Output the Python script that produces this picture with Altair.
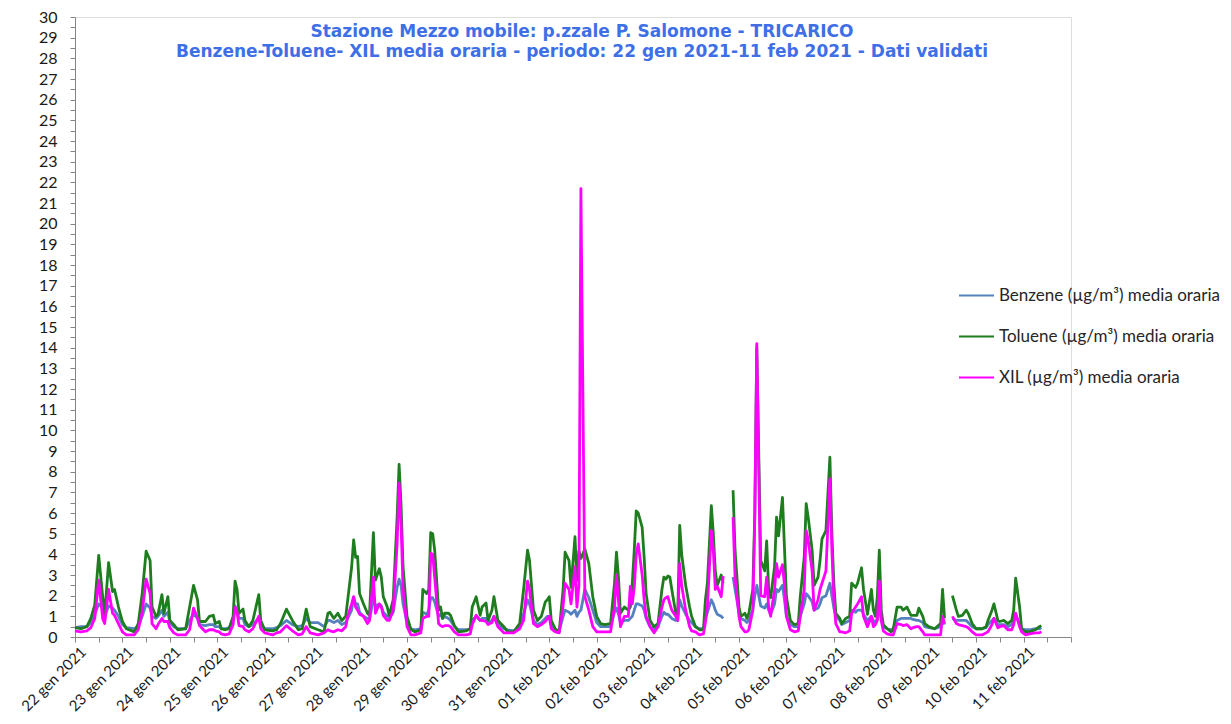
import json
import altair as alt
import pandas as pd

# hours elapsed since 22 gen 2021 00:00
hours = [
    0, 3, 6, 8, 10, 12, 14, 15, 17, 19, 20, 22,
    24, 26, 30, 32, 34, 36, 38, 39, 41, 42, 44, 45, 47,
    48, 50, 52, 56, 58, 60, 62, 63, 66, 68, 70, 71, 73, 74, 76, 78, 80, 81, 82, 83, 85, 86, 88, 90, 93, 94,
    96, 100, 102, 104, 107, 110, 113, 115, 117, 119,
    123, 126, 128, 129, 131, 133, 135, 137, 138, 140, 141, 142, 143,
    144, 146, 148, 149, 151, 152, 154, 155, 156, 158, 159, 161, 163, 164, 165, 166,
    168, 170, 172, 175, 176, 178, 179, 180, 181, 182, 184, 185, 186, 187, 189, 190,
    192, 194, 198, 200, 201, 203, 205, 206, 208, 209, 211, 212, 214,
    217, 219, 222, 225, 227, 229, 230, 232, 234, 236, 238, 239,
    240, 241, 243, 245, 247, 248, 250, 251, 253, 254, 255, 256, 258, 260, 262,
    264, 266, 268, 271, 273, 274, 275, 276, 278, 280, 281, 282, 283, 284, 285, 287,
    288, 289, 291, 293, 295, 297, 298, 299, 300, 301, 302, 304, 305, 306, 307, 309, 311,
    312, 314, 316, 318, 319, 320, 322, 323, 324, 325, 327, 328, 330, 333, 334,
    336, 337, 339, 340, 341, 343, 344, 345, 347, 349, 350, 351, 352, 354, 355, 356, 358, 359,
    360, 362, 364, 366, 367, 369, 370, 371, 373, 374, 376, 377, 378, 380, 382, 383,
    384, 385, 387, 388, 390, 392, 393, 395, 396, 398, 399, 401, 403, 404, 405, 406, 407,
    408, 409, 411, 413, 414, 416, 418, 419, 421, 423, 424, 426, 427, 429, 430,
    432, 435, 438, 439, 440, 442, 444, 446, 447, 449, 451, 452, 454,
    456, 459, 461, 462, 464, 465, 467, 468, 470, 472, 474, 475, 476, 478, 479,
    481, 483, 486, 488, 489,
]

toluene = [
    0.45, 0.4, 0.5, 0.9, 1.55, 3.95, 1.95, 1.05, 3.6, 2.2, 2.3, 1.45,
    0.75, 0.4, 0.25, 0.65, 2.1, 4.15, 3.7, 1.45, 1.0, 1.1, 2.05, 1.15, 1.95,
    0.8, 0.6, 0.35, 0.4, 1.45, 2.5, 1.8, 0.75, 0.75, 1.0, 1.05, 0.65, 0.75, 0.4, 0.35, 0.4, 1.0, 2.7, 2.3, 1.15, 1.35, 0.8, 0.5, 0.8, 2.05, 0.8,
    0.35, 0.3, 0.35, 0.65, 1.35, 0.8, 0.35, 0.4, 1.35, 0.5,
    0.35, 0.25, 1.15, 1.2, 0.9, 1.15, 0.8, 1.0, 1.8, 3.4, 4.7, 3.85, 3.9,
    2.1, 1.6, 1.15, 1.05, 5.05, 2.75, 3.3, 2.9, 1.95, 1.45, 1.05, 1.8, 5.8, 8.35, 6.4, 3.4,
    1.0, 0.35, 0.25, 0.35, 2.3, 2.1, 2.3, 5.05, 5.0, 4.2, 1.3, 1.45, 0.9, 1.15, 1.15, 1.05,
    0.55, 0.25, 0.3, 0.4, 1.45, 1.95, 1.05, 1.45, 1.65, 0.8, 1.3, 1.95, 0.8,
    0.5, 0.25, 0.25, 0.65, 2.3, 4.2, 3.7, 1.3, 0.8, 1.0, 1.7, 1.8,
    1.95, 0.8, 0.4, 0.25, 2.3, 4.1, 3.7, 2.4, 4.85, 2.75, 4.15, 3.8, 4.25, 3.55, 1.95,
    1.0, 0.65, 0.6, 0.65, 2.6, 4.1, 2.9, 1.15, 1.45, 1.3, 1.45, 2.6, 4.2, 6.1, 6.0, 5.3,
    3.85, 2.1, 0.8, 0.5, 0.65, 2.3, 2.9, 2.8, 2.95, 2.9, 2.3, 1.15, 1.05, 5.4, 4.0, 2.5, 1.45,
    1.0, 0.5, 0.35, 0.35, 1.8, 2.6, 6.35, 5.0, 3.2, 2.5, 3.0, 2.6, None, 7.1, 4.2,
    1.45, 1.0, 1.15, 0.9, 1.15, 2.3, 6.0, 14.0, 3.7, 3.2, 4.65, 2.3, 1.9, 3.4, 5.8, 4.9, 6.75, 4.35,
    1.95, 0.8, 0.6, 0.65, 1.95, 3.85, 6.45, 5.8, 4.2, 2.5, 2.9, 3.7, 4.75, 5.15, 8.7, 5.0,
    2.6, 1.15, 0.9, 0.65, 0.9, 1.0, 2.6, 2.4, 2.6, 3.35, 2.3, 1.1, 2.3, 1.3, 1.0, 1.95, 4.2,
    1.3, 0.6, 0.4, 0.25, 0.35, 1.45, 1.45, 1.3, 1.45, 1.05, 1.05, 1.05, 1.4, 1.0, 0.65,
    0.5, 0.4, 0.65, 2.3, 0.9, None, 2.0, 1.3, 1.0, 1.05, 1.3, 1.15, 0.65,
    0.4, 0.4, 0.5, 0.8, 1.3, 1.6, 0.8, 0.75, 0.8, 0.65, 0.8, 1.3, 2.85, 1.45, 0.4,
    0.25, 0.25, 0.35, 0.5, 0.55,
]

benzene = [
    0.45, 0.5, 0.5, 0.7, 1.1, 1.6, 1.4, 1.0, 1.5, 1.4, 1.3, 1.0,
    0.6, 0.45, 0.4, 0.5, 1.0, 1.6, 1.4, 1.0, 0.9, 1.0, 1.3, 1.0, 1.2,
    0.7, 0.5, 0.4, 0.4, 0.8, 1.1, 0.9, 0.6, 0.55, 0.6, 0.6, 0.5, 0.5, 0.4, 0.4, 0.45, 0.9, 1.5, 1.3, 0.9, 0.9, 0.6, 0.5, 0.6, 0.9, 0.6,
    0.4, 0.4, 0.45, 0.55, 0.8, 0.6, 0.5, 0.55, 0.9, 0.7,
    0.7, 0.5, 0.8, 0.8, 0.7, 0.8, 0.6, 0.7, 0.9, 1.3, 1.9, 1.6, 1.6,
    1.2, 1.0, 0.9, 0.8, 1.9, 1.5, 1.6, 1.5, 1.2, 1.0, 0.9, 1.2, 2.4, 2.8, 2.5, 1.6,
    0.7, 0.4, 0.35, 0.4, 1.2, 1.1, 1.3, 1.9, 1.9, 1.7, 1.0, 1.1, 0.9, 1.0, 0.9, 0.8,
    0.5, 0.35, 0.35, 0.4, 0.8, 1.0, 0.8, 0.9, 0.9, 0.7, 0.8, 1.0, 0.6,
    0.4, 0.35, 0.3, 0.5, 1.1, 1.8, 1.6, 0.8, 0.6, 0.7, 0.9, 1.0,
    1.0, 0.6, 0.35, 0.3, 1.0, 1.3, 1.2, 1.1, 1.3, 1.0, 1.2, 1.3, 2.3, 1.9, 1.3,
    0.7, 0.5, 0.5, 0.5, 1.2, 1.4, 1.1, 0.7, 0.8, 0.8, 0.9, 1.0, 1.3, 1.6, 1.6, 1.5,
    1.3, 0.9, 0.5, 0.4, 0.5, 1.0, 1.2, 1.1, 1.1, 1.0, 0.9, 0.8, 0.8, 1.8, 1.5, 1.1, 0.8,
    0.7, 0.5, 0.4, 0.4, 0.9, 1.2, 1.8, 1.6, 1.3, 1.1, 1.0, 0.9, None, 2.9, 2.3,
    1.2, 0.9, 0.8, 0.7, 0.8, 1.3, 2.0, 2.5, 1.5, 1.4, 1.6, 1.3, 1.1, 1.6, 2.3, 2.2, 2.5, 1.8,
    1.0, 0.6, 0.5, 0.5, 1.0, 1.6, 2.1, 2.0, 1.7, 1.3, 1.4, 1.6, 1.9, 2.0, 2.6, 2.0,
    1.4, 1.0, 0.8, 0.6, 0.7, 0.8, 1.3, 1.2, 1.3, 1.3, 1.1, 0.8, 1.0, 0.8, 0.7, 0.9, 1.5,
    0.8, 0.5, 0.4, 0.35, 0.4, 0.8, 0.9, 0.9, 0.9, 0.9, 0.85, 0.8, 0.8, 0.7, 0.5,
    0.45, 0.4, 0.5, 0.9, 0.6, None, 0.9, 0.8, 0.8, 0.8, 0.8, 0.7, 0.5,
    0.4, 0.4, 0.45, 0.6, 0.8, 0.9, 0.6, 0.6, 0.6, 0.5, 0.6, 0.8, 1.1, 0.6, 0.4,
    0.35, 0.35, 0.4, 0.4, 0.45,
]

xil = [
    0.3, 0.25, 0.3, 0.45, 0.9, 2.75, 0.9, 0.65, 2.3, 1.15, 1.05, 0.65,
    0.25, 0.1, 0.1, 0.35, 1.2, 2.8, 2.1, 0.65, 0.4, 0.6, 0.9, 0.75, 0.75,
    0.45, 0.2, 0.1, 0.1, 0.35, 1.4, 0.9, 0.55, 0.25, 0.35, 0.35, 0.3, 0.25, 0.15, 0.1, 0.15, 0.6, 1.45, 1.2, 0.55, 0.5, 0.35, 0.25, 0.4, 1.0, 0.4,
    0.2, 0.1, 0.2, 0.25, 0.55, 0.3, 0.1, 0.15, 0.5, 0.2,
    0.1, 0.2, 0.35, 0.3, 0.25, 0.35, 0.3, 0.5, 1.0, 1.6, 1.95, 1.45, 1.3,
    1.1, 1.0, 0.65, 0.8, 2.9, 1.15, 1.6, 1.45, 1.05, 0.8, 0.8, 1.3, 4.5, 7.45, 5.5, 2.3,
    0.5, 0.1, 0.1, 0.2, 0.9, 1.0, 1.0, 4.05, 4.0, 2.9, 0.65, 0.55, 0.5, 0.55, 0.55, 0.5,
    0.25, 0.1, 0.1, 0.15, 0.6, 1.05, 0.8, 0.8, 0.75, 0.6, 0.7, 1.0, 0.5,
    0.2, 0.2, 0.2, 0.4, 0.8, 2.7, 2.3, 0.65, 0.5, 0.6, 0.75, 0.9,
    1.0, 0.4, 0.25, 0.2, 1.5, 2.6, 2.3, 1.6, 3.4, 1.45, 2.5, 21.7, 1.95, 1.3, 0.5,
    0.25, 0.25, 0.25, 0.25, 1.45, 3.0, 1.8, 0.5, 1.0, 1.0, 2.45, 1.6, 2.4, 4.0, 4.5, 3.0,
    1.8, 1.0, 0.5, 0.2, 0.5, 1.45, 1.8, 1.9, 1.95, 1.6, 1.3, 1.0, 0.8, 3.55, 2.5, 1.3, 0.5,
    0.3, 0.25, 0.1, 0.15, 0.7, 1.45, 5.15, 4.2, 2.3, 2.45, 1.95, 2.95, None, 5.8, 2.9,
    1.0, 0.5, 0.25, 0.25, 0.35, 1.3, 5.8, 14.2, 2.0, 1.95, 2.9, 1.45, 1.0, 2.3, 3.55, 2.9, 3.5, 2.55,
    1.0, 0.35, 0.25, 0.3, 1.0, 2.3, 5.15, 4.7, 3.2, 1.3, 1.8, 2.3, 2.6, 3.2, 7.65, 4.2,
    1.8, 0.65, 0.25, 0.25, 0.2, 0.3, 1.15, 1.45, 1.6, 1.95, 1.0, 0.5, 1.0, 0.5, 0.6, 0.8, 2.7,
    0.8, 0.3, 0.15, 0.1, 0.1, 0.65, 0.6, 0.55, 0.6, 0.4, 0.45, 0.5, 0.5, 0.25, 0.1,
    0.1, 0.1, 0.1, 1.0, 0.65, None, 1.0, 0.65, 0.6, 0.55, 0.5, 0.45, 0.25,
    0.1, 0.1, 0.2, 0.25, 0.6, 0.9, 0.45, 0.5, 0.55, 0.35, 0.35, 0.6, 1.15, 0.5, 0.25,
    0.1, 0.15, 0.2, 0.2, 0.25,
]

assert len(hours) == len(toluene) == len(benzene) == len(xil)

series_names = [
    "Benzene (µg/m³) media oraria",
    "Toluene (µg/m³) media oraria",
    "XIL (µg/m³) media oraria",
]
series_colors = ["#5582BF", "#1E7D1E", "#FF00FF"]

day_labels = (
    [f"{d} gen 2021" for d in range(22, 32)]
    + [f"{d:02d} feb 2021" for d in range(1, 12)]
)

title_lines = [
    "Stazione Mezzo mobile: p.zzale P. Salomone - TRICARICO",
    "Benzene-Toluene- XIL media oraria - periodo: 22 gen 2021-11 feb 2021 - Dati validati",
]

rows = []
for name, vals in zip(series_names, [benzene, toluene, xil]):
    seg = 0
    for h, v in zip(hours, vals):
        if v is None:
            seg += 1
            continue
        rows.append({"ora": h, "valore": v, "serie": name, "tratto": seg})
df = pd.DataFrame(rows)

x_axis = alt.Axis(
    values=list(range(0, 505, 12)),
    labelExpr=f"{json.dumps(day_labels)}[datum.value / 24] || ''",
    labelAngle=-45,
    labelAlign="right",
    labelBaseline="middle",
    labelPadding=7,
    labelOffset=8,
    labelFont="Lato",
    labelFontSize=15,
    labelColor="#1a1a1a",
    labelOverlap=False,
    labelBound=False,
    tickSize=5,
    tickColor="#868686",
    domainColor="#868686",
    grid=False,
    title=None,
)

y_axis = alt.Axis(
    values=[i * 0.5 for i in range(61)],
    labelExpr="datum.value % 1 == 0 ? format(datum.value, 'd') : ''",
    labelFont="Lato",
    labelFontSize=16,
    labelColor="#1a1a1a",
    labelPadding=13,
    labelOverlap=False,
    tickSize=5,
    tickColor="#868686",
    domainColor="#868686",
    grid=False,
    title=None,
)

color = alt.Color(
    "serie:N",
    scale=alt.Scale(domain=series_names, range=series_colors),
    legend=alt.Legend(
        title=None,
        orient="none",
        legendX=883,
        legendY=260,
        symbolType="stroke",
        symbolSize=1225,
        symbolStrokeWidth=2,
        rowPadding=14,
        labelFont="Lato",
        labelFontSize=17,
        labelColor="#262626",
        labelOffset=4,
        labelLimit=400,
    ),
)

base = alt.Chart(df).mark_line(strokeWidth=2.8, strokeJoin="round").encode(
    x=alt.X("ora:Q", scale=alt.Scale(domain=[0, 504], nice=False), axis=x_axis),
    y=alt.Y("valore:Q", scale=alt.Scale(domain=[0, 30], nice=False), axis=y_axis),
    color=color,
    detail="tratto:N",
)

layers = [base.transform_filter(alt.datum.serie == name) for name in series_names]

chart = alt.layer(*layers).properties(
    width=996,
    height=620,
    autosize=alt.AutoSizeParams(type="none"),
    padding={"left": 67, "top": 9, "right": 152, "bottom": 79},
    title=alt.Title(
        title_lines,
        font="DejaVu Sans",
        fontSize=17,
        fontWeight="bold",
        color="#3F6FE6",
        anchor="middle",
        lineHeight=20,
        baseline="top",
        offset=0,
        dx=9,
        dy=52,
    ),
).configure_view(strokeWidth=0).configure(background="white")

chart.save("out.html", embed_options={"renderer": "svg", "actions": False})
